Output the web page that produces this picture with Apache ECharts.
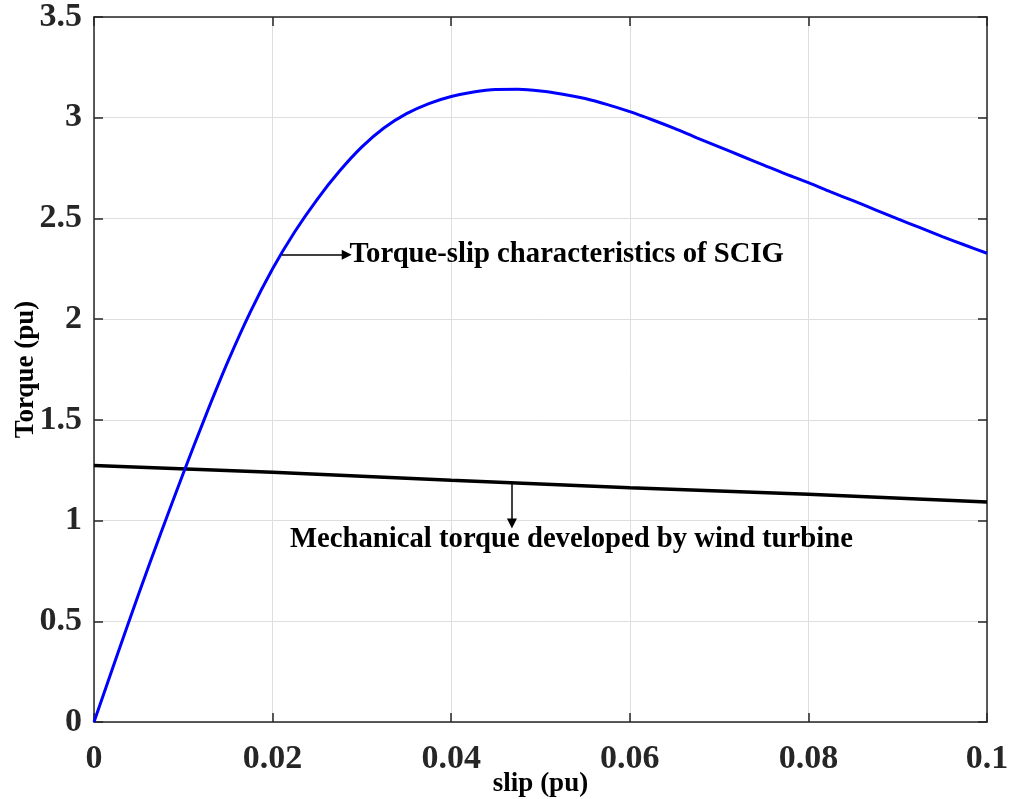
<!DOCTYPE html>
<html>
<head>
<meta charset="utf-8">
<script src="https://cdn.jsdelivr.net/npm/echarts@6/dist/echarts.min.js"></script>
<style>
  html, body { margin: 0; padding: 0; background: #fff; }
  #chart { width: 1011px; height: 799px; }
</style>
</head>
<body>
<div id="chart"></div>
<script>
// Torque-slip curve of the SCIG (slip in pu, torque in pu)
const slipGen = [0, 0.0025, 0.005, 0.0075, 0.01, 0.0125, 0.015, 0.0175, 0.02, 0.0225,
  0.025, 0.0275, 0.03, 0.0325, 0.035, 0.0375, 0.04, 0.0425, 0.045, 0.0475,
  0.05, 0.0525, 0.055, 0.0575, 0.06, 0.0625, 0.065, 0.0675, 0.07, 0.0725,
  0.075, 0.0775, 0.08, 0.0825, 0.085, 0.0875, 0.09, 0.0925, 0.095, 0.0975, 0.1];
const torqueGen = [0, 0.32, 0.635, 0.94, 1.235, 1.52, 1.79, 2.035, 2.25, 2.435,
  2.595, 2.735, 2.855, 2.95, 3.02, 3.07, 3.105, 3.128, 3.14, 3.141,
  3.133, 3.117, 3.095, 3.065, 3.03, 2.99, 2.947, 2.90, 2.855, 2.81,
  2.765, 2.72, 2.678, 2.632, 2.588, 2.543, 2.498, 2.454, 2.41, 2.368, 2.327];

// Mechanical torque from the wind turbine
const slipMech = [0, 0.02, 0.04, 0.06, 0.08, 0.10];
const torqueMech = [1.273, 1.240, 1.200, 1.163, 1.131, 1.092];

// Axis tick labels
const xTicks = [0, 0.02, 0.04, 0.06, 0.08, 0.1];
const xTickLabels = ['0', '0.02', '0.04', '0.06', '0.08', '0.1'];
const yTicks = [0, 0.5, 1, 1.5, 2, 2.5, 3, 3.5];
const yTickLabels = ['0', '0.5', '1', '1.5', '2', '2.5', '3', '3.5'];

// Annotation texts
const labelGen = 'Torque-slip characteristics of SCIG';
const labelMech = 'Mechanical torque developed by wind turbine';

const FONT = '"Liberation Serif", "Times New Roman", serif';
const AXIS_COLOR = '#262626';

function tickLabel(values, labels) {
  return function (v) {
    for (let i = 0; i < values.length; i++) {
      if (Math.abs(values[i] - v) < 1e-9) return labels[i];
    }
    return '';
  };
}

function axisCommon(showLabel) {
  return {
    axisLine: { show: true, onZero: false, lineStyle: { color: AXIS_COLOR, width: 1.5 } },
    axisTick: { show: true, inside: true, length: 9, lineStyle: { color: AXIS_COLOR, width: 1.5 } },
    axisLabel: { show: showLabel },
    splitLine: { show: false }
  };
}

const arrowLine = {
  silent: true,
  symbol: ['none', 'triangle'],
  symbolSize: 10,
  label: { show: false },
  itemStyle: { color: '#000' },
  lineStyle: { color: '#000', width: 1.5, type: 'solid' },
  emphasis: { disabled: true }
};

const chart = echarts.init(document.getElementById('chart'), null, { renderer: 'canvas' });

const option = {
  animation: false,
  backgroundColor: '#ffffff',
  grid: { left: 94, right: 24, top: 17, bottom: 77, containLabel: false, outerBoundsMode: 'none' },
  xAxis: [
    Object.assign(axisCommon(true), {
      type: 'value', position: 'bottom', min: 0, max: 0.1, interval: 0.02,
      name: 'slip (pu)', nameLocation: 'middle', nameGap: 49, nameMoveOverlap: false,
      nameTextStyle: { fontFamily: FONT, fontWeight: 'bold', fontSize: 27, color: '#000' },
      axisLabel: {
        show: true, margin: 20, fontFamily: FONT, fontWeight: 'bold', fontSize: 34, color: '#262626',
        formatter: tickLabel(xTicks, xTickLabels)
      },
      splitLine: { show: true, lineStyle: { color: '#dedede', width: 1 } }
    }),
    Object.assign(axisCommon(false), {
      type: 'value', position: 'top', min: 0, max: 0.1, interval: 0.02
    })
  ],
  yAxis: [
    Object.assign(axisCommon(true), {
      type: 'value', position: 'left', min: 0, max: 3.5, interval: 0.5,
      name: 'Torque (pu)', nameLocation: 'middle', nameGap: 54, nameRotate: 90, nameMoveOverlap: false,
      nameTextStyle: { fontFamily: FONT, fontWeight: 'bold', fontSize: 27, color: '#000' },
      axisLabel: {
        show: true, margin: 12, fontFamily: FONT, fontWeight: 'bold', fontSize: 34, color: '#262626',
        formatter: tickLabel(yTicks, yTickLabels)
      },
      splitLine: { show: true, lineStyle: { color: '#dedede', width: 1 } }
    }),
    Object.assign(axisCommon(false), {
      type: 'value', position: 'right', min: 0, max: 3.5, interval: 0.5
    })
  ],
  series: [
    {
      name: 'SCIG torque',
      type: 'line',
      xAxisIndex: 0, yAxisIndex: 0,
      data: slipGen.map((s, i) => [s, torqueGen[i]]),
      smooth: 0.3,
      symbol: 'none',
      lineStyle: { color: '#0000ff', width: 3 },
      z: 3,
      markLine: Object.assign({}, arrowLine, {
        data: [[{ coord: [0.02105, 2.32] }, { coord: [0.0283, 2.32] }]]
      })
    },
    {
      name: 'Mechanical torque',
      type: 'line',
      xAxisIndex: 0, yAxisIndex: 0,
      data: slipMech.map((s, i) => [s, torqueMech[i]]),
      symbol: 'none',
      lineStyle: { color: '#000000', width: 3.5 },
      z: 2,
      markLine: Object.assign({}, arrowLine, {
        data: [[{ coord: [0.0468, 1.188] }, { coord: [0.0468, 0.985] }]]
      })
    }
  ]
};

chart.setOption(option);

// Place the annotation texts next to their arrows
const p1 = chart.convertToPixel({ xAxisIndex: 0, yAxisIndex: 0 }, [0.0284, 2.32]);
const p2 = chart.convertToPixel({ xAxisIndex: 0, yAxisIndex: 0 }, [0.02195, 0.905]);
chart.setOption({
  graphic: [
    {
      type: 'text', x: p1[0] + 2, y: p1[1], z: 10,
      style: {
        text: labelGen, fill: '#000', font: 'bold 28.7px ' + FONT,
        textAlign: 'left', textVerticalAlign: 'middle'
      }
    },
    {
      type: 'text', x: p2[0], y: p2[1], z: 10,
      style: {
        text: labelMech, fill: '#000', font: 'bold 28.7px ' + FONT,
        textAlign: 'left', textVerticalAlign: 'middle'
      }
    }
  ]
});
</script>
</body>
</html>
